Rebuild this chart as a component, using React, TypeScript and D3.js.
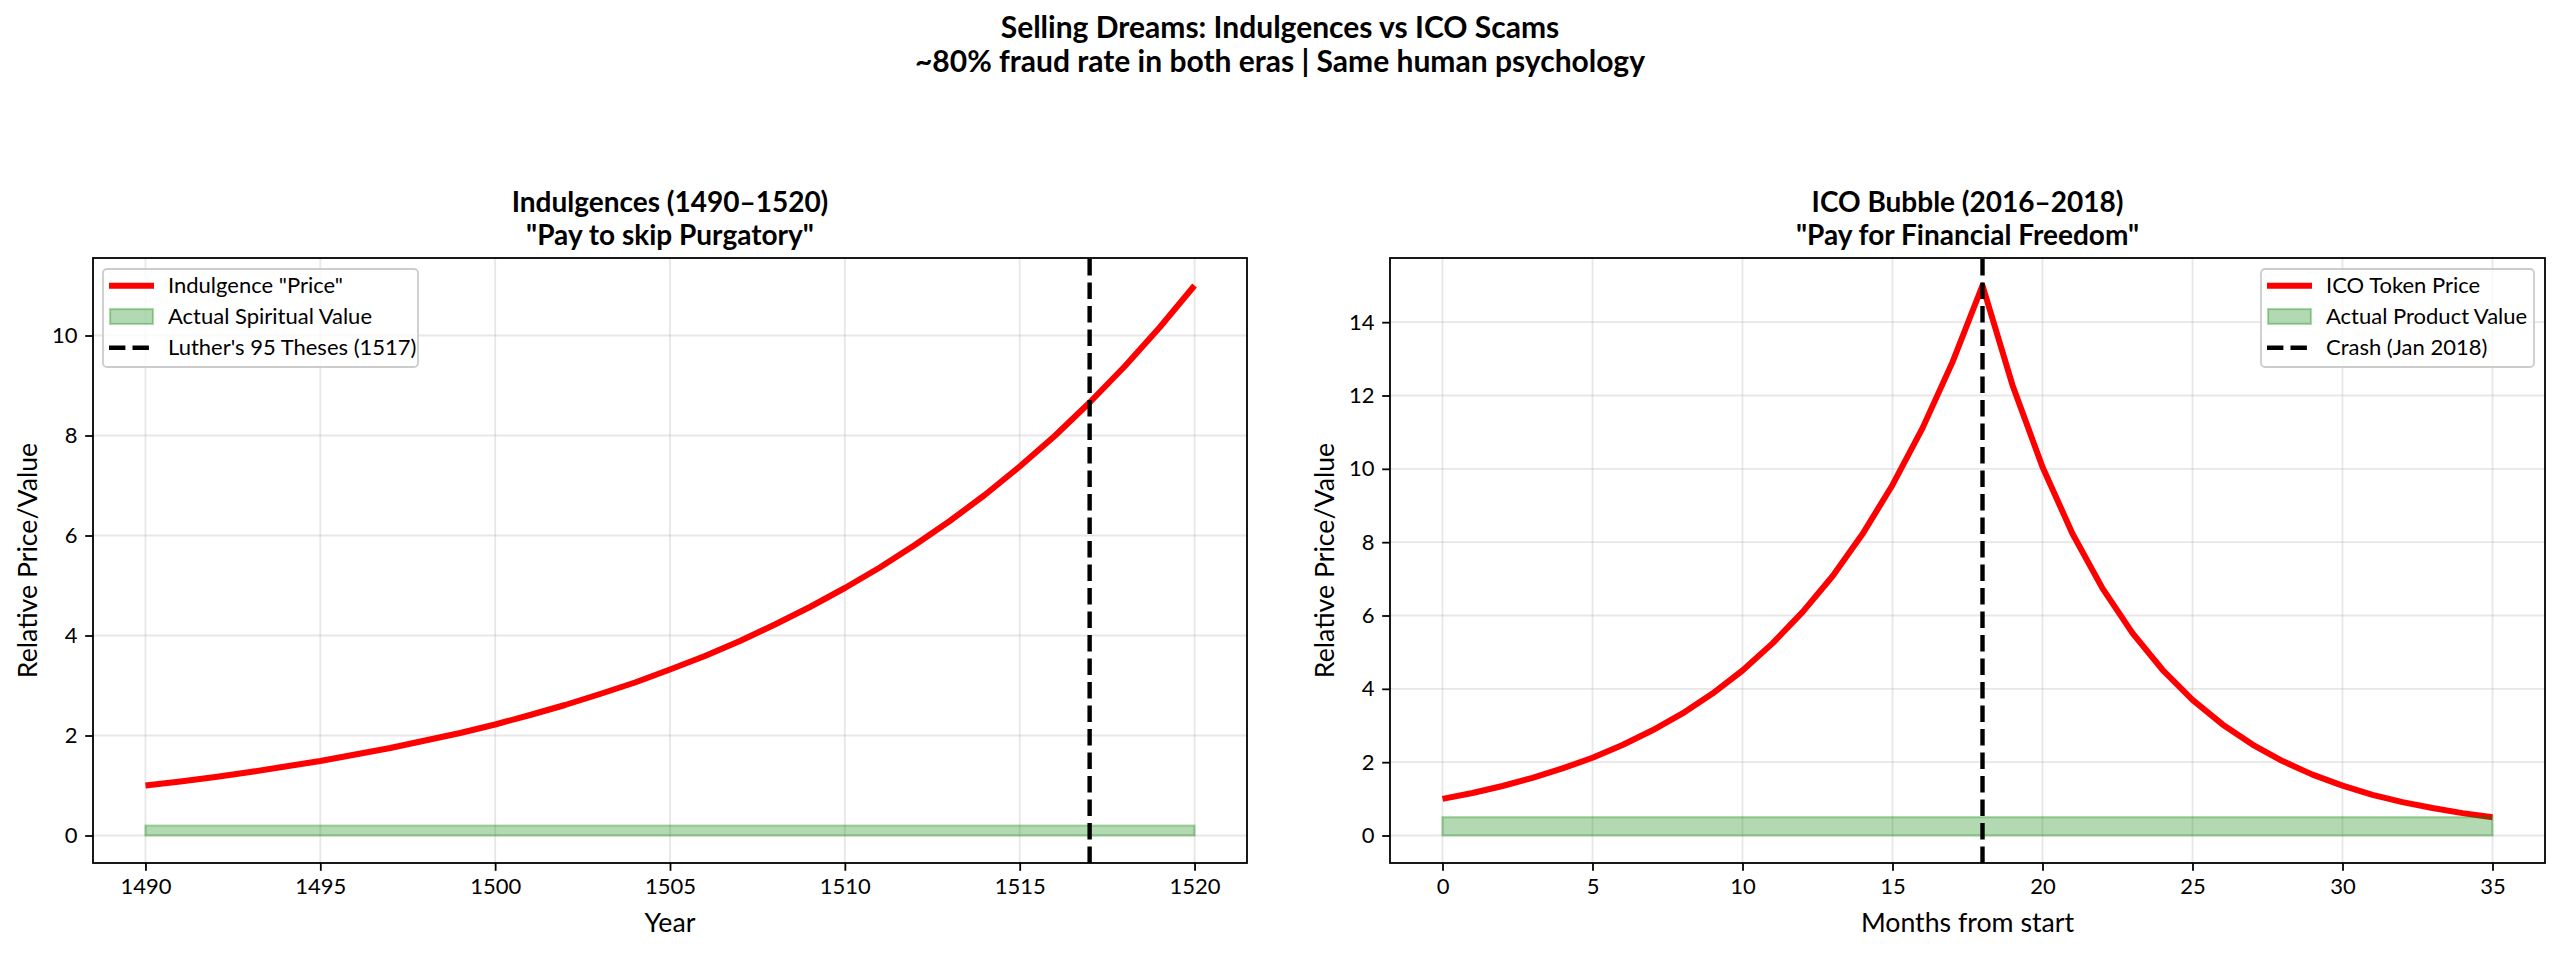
import { useRef, useEffect } from "react";
import * as d3 from "d3";

// Indulgences, one value per year
const years = d3.range(1490, 1521);
const indulgencePrice = [
  1.0, 1.08, 1.17, 1.27, 1.38, 1.49, 1.62, 1.75, 1.9, 2.05, 2.22, 2.41, 2.61, 2.83, 3.06, 3.32,
  3.59, 3.89, 4.22, 4.57, 4.95, 5.36, 5.81, 6.29, 6.81, 7.38, 7.99, 8.66, 9.38, 10.16, 11.0,
];
const spiritualValue = 0.2;
const lutherYear = 1517;

// ICO bubble, one value per month
const months = d3.range(0, 36);
const icoPrice = [
  1.0, 1.16, 1.35, 1.57, 1.83, 2.12, 2.47, 2.87, 3.33, 3.87, 4.5, 5.24, 6.09, 7.07, 8.22, 9.56,
  11.11, 12.91, 15.0, 12.28, 10.05, 8.23, 6.74, 5.52, 4.52, 3.7, 3.03, 2.48, 2.03, 1.66, 1.36,
  1.11, 0.91, 0.75, 0.61, 0.5,
];
const productValue = 0.5;
const crashMonth = 18;

const leftXTicks = [1490, 1495, 1500, 1505, 1510, 1515, 1520];
const leftYTicks = [0, 2, 4, 6, 8, 10];
const rightXTicks = [0, 5, 10, 15, 20, 25, 30, 35];
const rightYTicks = [0, 2, 4, 6, 8, 10, 12, 14];

const FONT = "Lato, 'Open Sans', sans-serif";

const App = () => {
  const svgRef = useRef<SVGSVGElement>(null);

  useEffect(() => {
    document.body.style.margin = "0";
    draw();
  }, []);

  const draw = () => {
    const width = 2560;
    const height = 953;
    const svg = d3.select(svgRef.current).attr("width", width).attr("height", height)
      .style("font-family", FONT)
      .style("background", "#fff");
    svg.selectAll("*").remove();

    // suptitle
    svg.append("text").text("Selling Dreams: Indulgences vs ICO Scams")
      .attr("x", 1280).attr("y", 38).attr("text-anchor", "middle")
      .attr("font-size", 30).attr("font-weight", "bold");
    svg.append("text").text("~80% fraud rate in both eras | Same human psychology")
      .attr("x", 1280).attr("y", 72).attr("text-anchor", "middle")
      .attr("font-size", 30).attr("font-weight", "bold");

    const top = 258;
    const bottom = 863;

    const panel = (opts: any) => {
      const { x0, x1, xs, ys, fillValue, vline, xDomain, yDomain, xTicks, yTicks,
        title1, title2, xLabel, legendRight, labels } = opts;
      const g = svg.append("g");
      const x = d3.scaleLinear().domain(xDomain).range([x0, x1]);
      const y = d3.scaleLinear().domain(yDomain).range([bottom, top]);

      // grid
      g.append("g").selectAll("line").data(xTicks).join("line")
        .attr("x1", (d: number) => x(d)).attr("x2", (d: number) => x(d))
        .attr("y1", top).attr("y2", bottom)
        .attr("stroke", "#b0b0b0").attr("stroke-opacity", 0.3).attr("stroke-width", 1.8);
      g.append("g").selectAll("line").data(yTicks).join("line")
        .attr("x1", x0).attr("x2", x1)
        .attr("y1", (d: number) => y(d)).attr("y2", (d: number) => y(d))
        .attr("stroke", "#b0b0b0").attr("stroke-opacity", 0.3).attr("stroke-width", 1.8);

      // price line
      const line = d3.line<number>().x((d, i) => x(xs[i])).y(d => y(d));
      g.append("path").attr("d", line(ys))
        .attr("fill", "none").attr("stroke", "#ff0000").attr("stroke-width", 6)
        .attr("stroke-linejoin", "round");

      // actual value band
      const area = d3.area<number>().x(d => x(d)).y0(y(0)).y1(y(fillValue));
      g.append("path").attr("d", area([xs[0], xs[xs.length - 1]]))
        .attr("fill", "green").attr("fill-opacity", 0.3)
        .attr("stroke", "green").attr("stroke-opacity", 0.3).attr("stroke-width", 2.2);

      // event line
      g.append("line")
        .attr("x1", x(vline)).attr("x2", x(vline)).attr("y1", bottom).attr("y2", top)
        .attr("stroke", "#000").attr("stroke-width", 4.4).attr("stroke-dasharray", "16.4,7.1");

      // spines
      g.append("rect").attr("x", x0).attr("y", top).attr("width", x1 - x0).attr("height", bottom - top)
        .attr("fill", "none").attr("stroke", "#000").attr("stroke-width", 1.8);

      // x axis
      const xAxis = g.append("g").attr("transform", `translate(0,${bottom})`)
        .call(d3.axisBottom(x).tickValues(xTicks).tickSize(7.8).tickPadding(7.8).tickFormat(d3.format("d")));
      xAxis.select(".domain").remove();
      xAxis.selectAll(".tick line").attr("stroke", "#000").attr("stroke-width", 1.8);
      xAxis.selectAll("text").attr("fill", "#000").style("font-size", "22px").style("font-family", FONT);

      // y axis
      const yAxis = g.append("g").attr("transform", `translate(${x0},0)`)
        .call(d3.axisLeft(y).tickValues(yTicks).tickSize(7.8).tickPadding(7.8).tickFormat(d3.format("d")));
      yAxis.select(".domain").remove();
      yAxis.selectAll(".tick line").attr("stroke", "#000").attr("stroke-width", 1.8);
      yAxis.selectAll("text").attr("fill", "#000").style("font-size", "22px").style("font-family", FONT);

      // titles and labels
      const cx = (x0 + x1) / 2;
      g.append("text").text(title1).attr("x", cx).attr("y", 212).attr("text-anchor", "middle")
        .attr("font-size", 28).attr("font-weight", "bold");
      g.append("text").text(title2).attr("x", cx).attr("y", 245).attr("text-anchor", "middle")
        .attr("font-size", 28).attr("font-weight", "bold");
      g.append("text").text(xLabel).attr("x", cx).attr("y", 932).attr("text-anchor", "middle")
        .attr("font-size", 26.7);
      g.append("text").text("Relative Price/Value")
        .attr("transform", `translate(${x0 - 56},${(top + bottom) / 2}) rotate(-90)`)
        .attr("text-anchor", "middle").attr("font-size", 26.7);

      // legend
      const lx0 = legendRight ? 2261 : 103;
      const lx1 = legendRight ? 2534 : 418;
      const lg = g.append("g");
      lg.append("rect").attr("x", lx0).attr("y", 269).attr("width", lx1 - lx0).attr("height", 98)
        .attr("rx", 4).attr("fill", "#fff").attr("fill-opacity", 0.8)
        .attr("stroke", "#cccccc").attr("stroke-width", 1.8);
      const rows = [285.7, 316.5, 347.7];
      const hx = lx0 + 6;
      lg.append("line").attr("x1", hx).attr("x2", hx + 45).attr("y1", rows[0]).attr("y2", rows[0])
        .attr("stroke", "#ff0000").attr("stroke-width", 6);
      lg.append("rect").attr("x", hx + 1).attr("y", rows[1] - 7.5).attr("width", 43).attr("height", 15)
        .attr("fill", "green").attr("fill-opacity", 0.3)
        .attr("stroke", "green").attr("stroke-opacity", 0.3).attr("stroke-width", 2.2);
      lg.append("line").attr("x1", hx).attr("x2", hx + 45).attr("y1", rows[2]).attr("y2", rows[2])
        .attr("stroke", "#000").attr("stroke-width", 4.4).attr("stroke-dasharray", "16.4,7.1");
      lg.selectAll("text.lab").data(labels).join("text").attr("class", "lab")
        .text((d: string) => d)
        .attr("x", hx + 59).attr("y", (d: string, i: number) => rows[i] + 7.7)
        .attr("font-size", 22);
    };

    panel({
      x0: 93, x1: 1247, xs: years, ys: indulgencePrice, fillValue: spiritualValue, vline: lutherYear,
      xDomain: [1488.5, 1521.5], yDomain: [-0.55, 11.55], xTicks: leftXTicks, yTicks: leftYTicks,
      title1: "Indulgences (1490–1520)", title2: "\"Pay to skip Purgatory\"", xLabel: "Year",
      legendRight: false,
      labels: ["Indulgence \"Price\"", "Actual Spiritual Value", "Luther's 95 Theses (1517)"],
    });
    panel({
      x0: 1390, x1: 2545, xs: months, ys: icoPrice, fillValue: productValue, vline: crashMonth,
      xDomain: [-1.75, 36.75], yDomain: [-0.75, 15.75], xTicks: rightXTicks, yTicks: rightYTicks,
      title1: "ICO Bubble (2016–2018)", title2: "\"Pay for Financial Freedom\"", xLabel: "Months from start",
      legendRight: true,
      labels: ["ICO Token Price", "Actual Product Value", "Crash (Jan 2018)"],
    });
  };

  return <svg ref={svgRef}></svg>;
};

export default App;
